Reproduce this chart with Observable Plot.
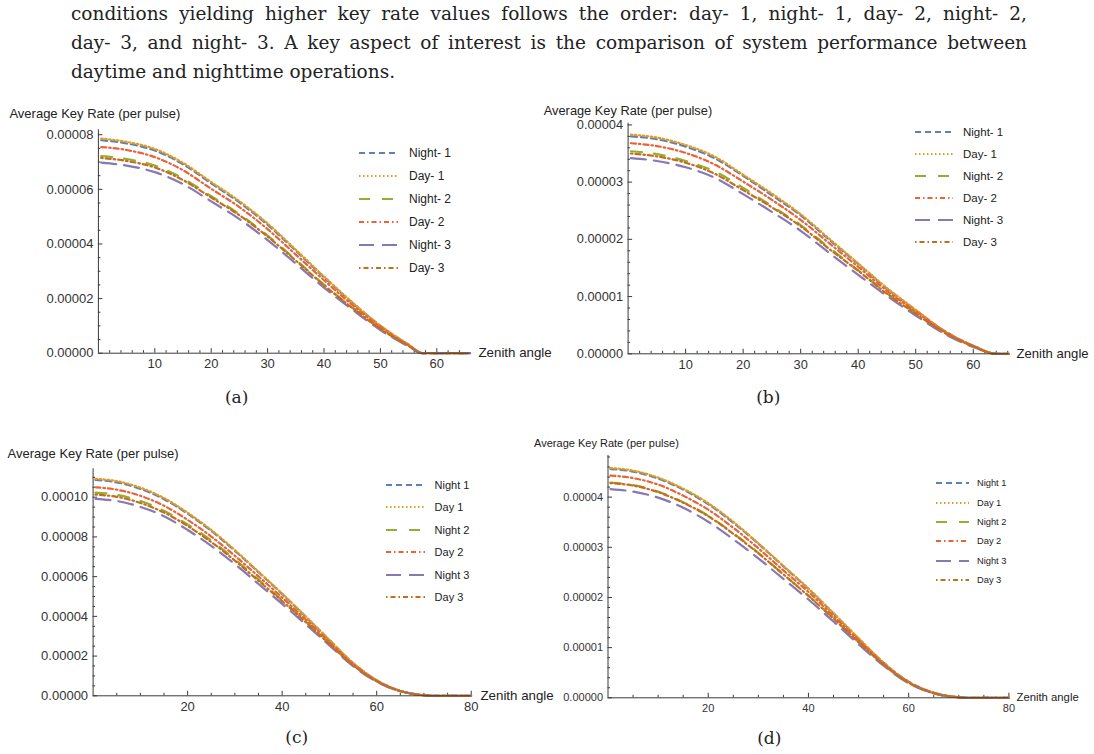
<!DOCTYPE html>
<html>
<head>
<meta charset="utf-8">
<script src="https://cdn.jsdelivr.net/npm/d3@7"></script>
<script src="https://cdn.jsdelivr.net/npm/@observablehq/plot@0.6"></script>
<style>
  body { margin: 0; background: #fff; }
  #page { position: relative; width: 1094px; height: 754px; overflow: hidden; background: #fff; }
  .para { position: absolute; left: 71px; width: 956px; font-family: "DejaVu Serif", serif; font-size: 18.5px; line-height: 22px; color: #222; white-space: nowrap; }
  .cap { position: absolute; font-family: "DejaVu Serif", serif; font-size: 17px; color: #222; transform: translate(-50%, -50%); }
  .panel { position: absolute; }
  .leg { position: absolute; font-family: "Liberation Sans", Arial, sans-serif; color: #222; white-space: nowrap; }
  .leg svg { position: absolute; left: 0; top: 0; overflow: visible; }
  .leg span { position: absolute; top: 0; }
</style>
</head>
<body>
<div id="page">
  <div class="para" style="top:3px"><span class="j">conditions yielding higher key rate values follows the order: day- 1, night- 1, day- 2, night- 2,</span></div>
  <div class="para" style="top:32px"><span class="j">day- 3, and night- 3. A key aspect of interest is the comparison of system performance between</span></div>
  <div class="para" style="top:61px"><span>daytime and nighttime operations.</span></div>
</div>
<script>
// ---------- data (rates in units of 1e-5 per pulse) ----------
const seriesAB = ["Night- 1", "Day- 1", "Night- 2", "Day- 2", "Night- 3", "Day- 3"];
const seriesCD = ["Night 1", "Day 1", "Night 2", "Day 2", "Night 3", "Day 3"];

const anglesA = [0.5, 5, 10, 15, 20, 25, 30, 35, 40, 45, 50, 55, 57.5, 65.9];
const ratesA = [
  [7.80, 7.68, 7.42, 6.92, 6.22, 5.52, 4.70, 3.75, 2.78, 1.85, 1.00, 0.31, 0, 0],
  [7.86, 7.74, 7.48, 6.97, 6.27, 5.57, 4.75, 3.79, 2.81, 1.87, 1.01, 0.32, 0, 0],
  [7.22, 7.11, 6.87, 6.40, 5.75, 5.09, 4.31, 3.42, 2.51, 1.67, 0.90, 0.27, 0, 0],
  [7.55, 7.44, 7.18, 6.70, 6.02, 5.35, 4.54, 3.61, 2.67, 1.77, 0.96, 0.29, 0, 0],
  [6.98, 6.87, 6.63, 6.19, 5.56, 4.91, 4.14, 3.28, 2.40, 1.60, 0.85, 0.25, 0, 0],
  [7.15, 7.04, 6.80, 6.34, 5.70, 5.05, 4.27, 3.39, 2.49, 1.66, 0.89, 0.27, 0, 0]
];

const anglesB = [0.5, 5, 10, 15, 20, 25, 30, 35, 40, 45, 50, 55, 60, 64, 66.2];
const ratesB = [
  [3.80, 3.75, 3.62, 3.42, 3.11, 2.77, 2.42, 1.99, 1.57, 1.14, 0.76, 0.40, 0.14, 0, 0],
  [3.83, 3.78, 3.65, 3.45, 3.13, 2.80, 2.44, 2.01, 1.58, 1.15, 0.77, 0.40, 0.14, 0, 0],
  [3.54, 3.49, 3.37, 3.19, 2.90, 2.58, 2.25, 1.85, 1.46, 1.06, 0.71, 0.37, 0.13, 0, 0],
  [3.68, 3.63, 3.51, 3.31, 3.01, 2.69, 2.34, 1.93, 1.52, 1.10, 0.74, 0.39, 0.14, 0, 0],
  [3.42, 3.37, 3.26, 3.08, 2.79, 2.48, 2.15, 1.76, 1.38, 1.01, 0.67, 0.35, 0.12, 0, 0],
  [3.50, 3.45, 3.34, 3.15, 2.86, 2.56, 2.23, 1.83, 1.45, 1.05, 0.70, 0.37, 0.13, 0, 0]
];

const anglesCD = [0.5, 5, 10, 15, 20, 25, 30, 35, 40, 45, 50, 55, 60, 65, 70, 72, 80];
const ratesC = [
  [10.87, 10.75, 10.42, 9.90, 9.17, 8.30, 7.30, 6.22, 5.12, 3.98, 2.80, 1.65, 0.78, 0.25, 0.03, 0, 0],
  [10.93, 10.81, 10.48, 9.96, 9.22, 8.35, 7.34, 6.25, 5.15, 4.00, 2.82, 1.66, 0.79, 0.25, 0.03, 0, 0],
  [10.23, 10.12, 9.81, 9.32, 8.63, 7.82, 6.87, 5.85, 4.82, 3.74, 2.64, 1.55, 0.74, 0.24, 0.03, 0, 0],
  [10.50, 10.38, 10.07, 9.57, 8.86, 8.02, 7.05, 6.01, 4.95, 3.84, 2.71, 1.60, 0.76, 0.24, 0.03, 0, 0],
  [9.92, 9.81, 9.51, 9.04, 8.35, 7.55, 6.63, 5.63, 4.63, 3.60, 2.54, 1.50, 0.71, 0.23, 0.03, 0, 0],
  [10.13, 10.02, 9.71, 9.23, 8.55, 7.74, 6.81, 5.79, 4.77, 3.71, 2.61, 1.54, 0.73, 0.23, 0.03, 0, 0]
];
const ratesD = [
  [4.56, 4.51, 4.37, 4.15, 3.86, 3.49, 3.07, 2.62, 2.17, 1.68, 1.18, 0.70, 0.32, 0.10, 0.01, 0, 0],
  [4.58, 4.53, 4.39, 4.17, 3.88, 3.51, 3.08, 2.63, 2.18, 1.69, 1.19, 0.70, 0.32, 0.10, 0.01, 0, 0],
  [4.29, 4.24, 4.11, 3.90, 3.63, 3.28, 2.89, 2.46, 2.04, 1.58, 1.11, 0.66, 0.30, 0.09, 0.01, 0, 0],
  [4.43, 4.38, 4.25, 4.03, 3.75, 3.39, 2.98, 2.54, 2.11, 1.63, 1.15, 0.68, 0.31, 0.10, 0.01, 0, 0],
  [4.16, 4.11, 3.99, 3.79, 3.51, 3.16, 2.78, 2.37, 1.96, 1.52, 1.07, 0.64, 0.29, 0.09, 0.01, 0, 0],
  [4.28, 4.23, 4.10, 3.89, 3.62, 3.27, 2.88, 2.46, 2.03, 1.58, 1.11, 0.66, 0.30, 0.09, 0.01, 0, 0]
];

const xTicksAB = [10, 20, 30, 40, 50, 60];
const xTicksCD = [20, 40, 60, 80];
const yTicksA = [0, 2, 4, 6, 8];
const yTicksB = [0, 1, 2, 3, 4];
const yTicksC = [0, 2, 4, 6, 8, 10];
const yTicksD = [0, 1, 2, 3, 4];

const yTitle = "Average Key Rate (per pulse)";
const xTitle = "Zenith angle";
const captions = ["(a)", "(b)", "(c)", "(d)"];

// ---------- styles ----------
const seriesColors = ["#5E81B5", "#E19C24", "#8FB032", "#EB6235", "#8778B3", "#C56E1A"];
const seriesDashes = ["6,4", "1.5,2.5", "11,12", "5,3,1.5,3", "15,8", "1.5,3,5,3"];

const panels = [
  { names: seriesAB, angles: anglesA, rates: ratesA, xTicks: xTicksAB, yTicks: yTicksA,
    left: 0, top: 95, width: 545, height: 290, mL: 97.9, mR: 75.4, mT: 34.3, mB: 32.3,
    xDomain: [0, 65.9], yDomain: [0, 8.18], xMinor: 2, yMinor: 0.5,
    font: 13, yLab: [-89, -16], xLabDx: 8.4,
    leg: { x1: 359, x2: 398, tx: 409, y0: 153.3, dy: 23, font: 12 }, cap: [236.7, 396.7] },
  { names: seriesAB, angles: anglesB, rates: ratesB, xTicks: xTicksAB, yTicks: yTicksB,
    left: 535, top: 95, width: 559, height: 290, mL: 92.6, mR: 85.6, mT: 27.7, mB: 31.7,
    xDomain: [0, 66.2], yDomain: [0, 4.03], xMinor: 2, yMinor: 0.2,
    font: 12.8, yLab: [-84.3, -12.7], xLabDx: 7.6,
    leg: { x1: 915, x2: 953, tx: 963, y0: 132.3, dy: 22, font: 11.5 }, cap: [768.3, 396.7] },
  { names: seriesCD, angles: anglesCD, rates: ratesC, xTicks: xTicksCD, yTicks: yTicksC,
    left: 0, top: 430, width: 545, height: 290, mL: 92.6, mR: 74.3, mT: 38.3, mB: 24.7,
    xDomain: [0, 80], yDomain: [0, 11.43], xMinor: 5, yMinor: 0.5,
    font: 13, yLab: [-85.5, -15], xLabDx: 9.3,
    leg: { x1: 386, x2: 425, tx: 434.6, y0: 485, dy: 22.46, font: 11 }, cap: [296.7, 736.7] },
  { names: seriesCD, angles: anglesCD, rates: ratesD, xTicks: xTicksCD, yTicks: yTicksD,
    left: 530, top: 425, width: 564, height: 300, mL: 77.5, mR: 85.6, mT: 30, mB: 27.7,
    xDomain: [0, 80], yDomain: [0, 4.83], xMinor: 5, yMinor: 0.2,
    font: 11, yLab: [-73.9, -11.7], xLabDx: 7.6,
    leg: { x1: 936, x2: 969, tx: 977, y0: 483.3, dy: 19.34, font: 9.3 }, cap: [769.3, 738.3] }
];

const page = document.getElementById("page");
const axisColor = "#3a3a3a";
const fmt = d => (d * 1e-5).toFixed(5);

function minorTicks(step, max, majors) {
  const out = [];
  for (let k = 1; k * step <= max + 1e-9; k++) {
    const v = Math.round(k * step * 1000) / 1000;
    if (!majors.some(m => Math.abs(m - v) < 1e-6)) out.push(v);
  }
  return out;
}

panels.forEach((p, pi) => {
  const rows = p.rates.flatMap((vals, i) => vals.map((v, j) => ({ angle: p.angles[j], rate: v, series: i })));
  const xMin = minorTicks(p.xMinor, p.xDomain[1], p.xTicks);
  const yMin = minorTicks(p.yMinor, p.yDomain[1], p.yTicks);
  const lines = p.names.map((name, i) => Plot.line(rows.filter(r => r.series === i), {
    x: "angle", y: "rate", stroke: seriesColors[i], strokeDasharray: seriesDashes[i],
    strokeWidth: 2.2, curve: "monotone-x"
  }));
  const chart = Plot.plot({
    width: p.width, height: p.height,
    marginLeft: p.mL, marginRight: p.mR, marginTop: p.mT, marginBottom: p.mB,
    style: { background: "transparent", fontFamily: "'Liberation Sans', Arial, sans-serif", fontSize: p.font + "px", color: "#333", overflow: "visible" },
    x: { domain: p.xDomain, label: null },
    y: { domain: p.yDomain, label: null },
    marks: [
      Plot.axisX(p.xTicks, { tickSize: -4.5, fill: "none", label: null, stroke: axisColor }),
      Plot.axisX(xMin, { tickSize: -2.5, fill: "none", label: null, stroke: axisColor }),
      Plot.axisX(p.xTicks, { tickSize: 0, tickPadding: 6, label: null, fontSize: p.font, fill: "#333" }),
      Plot.axisY(p.yTicks, { tickSize: -4.5, fill: "none", label: null, stroke: axisColor }),
      Plot.axisY(yMin, { tickSize: -2.5, fill: "none", label: null, stroke: axisColor }),
      Plot.axisY(p.yTicks, { tickSize: 0, tickPadding: 5, tickFormat: fmt, label: null, fontSize: p.font, fill: "#333" }),
      ...lines,
      Plot.ruleY([0], { stroke: axisColor, strokeWidth: 1 }),
      Plot.ruleX([p.xDomain[0]], { stroke: axisColor, strokeWidth: 1 }),
      Plot.text([xTitle], { frameAnchor: "bottom-right", dx: p.xLabDx, textAnchor: "start", lineAnchor: "middle", fontSize: p.font + 0.3, fill: "#222" }),
      Plot.text([yTitle], { frameAnchor: "top-left", dx: p.yLab[0], dy: p.yLab[1], textAnchor: "start", lineAnchor: "middle", fontSize: p.font, fill: "#222" })
    ]
  });
  const holder = document.createElement("div");
  holder.className = "panel";
  holder.style.left = p.left + "px";
  holder.style.top = p.top + "px";
  holder.appendChild(chart);
  page.appendChild(holder);

  // legend
  const L = p.leg;
  p.names.forEach((name, i) => {
    const row = document.createElement("div");
    row.className = "leg";
    row.style.left = L.x1 + "px";
    row.style.top = (L.y0 + i * L.dy - 8) + "px";
    row.style.height = "16px";
    row.style.fontSize = L.font + "px";
    const w = L.x2 - L.x1;
    row.innerHTML = `<svg width="${w}" height="16"><line x1="0" x2="${w}" y1="8" y2="8" stroke="${seriesColors[i]}" stroke-width="2.2" stroke-dasharray="${seriesDashes[i]}"/></svg><span style="left:${L.tx - L.x1}px;line-height:16px">${name}</span>`;
    page.appendChild(row);
  });

  const cap = document.createElement("div");
  cap.className = "cap";
  cap.style.left = p.cap[0] + "px";
  cap.style.top = p.cap[1] + "px";
  cap.textContent = captions[pi];
  page.appendChild(cap);
});

// justify first two paragraph lines to the text width
document.querySelectorAll(".para span.j").forEach(span => {
  const w = span.getBoundingClientRect().width;
  const spaces = (span.textContent.match(/ /g) || []).length;
  span.style.wordSpacing = ((956 - w) / spaces) + "px";
});
</script>
</body>
</html>
